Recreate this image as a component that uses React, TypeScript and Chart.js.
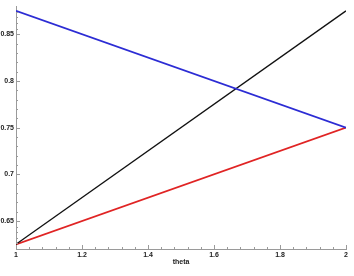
import React, { useEffect, useRef } from "react";
import { Chart, registerables } from "chart.js";

Chart.register(...registerables);

const xValues = [1, 2];
const blueValues = [0.875, 0.75];
const blackValues = [0.625, 0.875];
const redValues = [0.625, 0.75];
const xMajorTicks = [1, 1.2, 1.4, 1.6, 1.8, 2];
const xTickLabels = ["1", "1.2", "1.4", "1.6", "1.8", "2"];
const yMajorTicks = [0.65, 0.7, 0.75, 0.8, 0.85];
const yTickLabels = ["0.65", "0.7", "0.75", "0.8", "0.85"];
const xTitle = "theta";

const FONT = "'Liberation Sans', Arial, sans-serif";

function subdivide(major: number[], parts: number): number[] {
  const out: number[] = [];
  for (let i = 0; i < major.length - 1; i++) {
    const a = major[i];
    const b = major[i + 1];
    for (let k = 1; k < parts; k++) out.push(a + ((b - a) * k) / parts);
  }
  return out;
}

const tickMarks = {
  id: "tickMarks",
  afterDraw(chart: any) {
    const { ctx, chartArea, scales } = chart;
    const xs = scales.x;
    const ys = scales.y;
    ctx.save();
    ctx.strokeStyle = "#9a9a9a";
    ctx.lineWidth = 1;
    const xMinor = subdivide(xMajorTicks, 5);
    const yAll = [0.62, ...yMajorTicks, 0.88];
    const yMinor = subdivide(yAll, 5).filter((v) => v > 0.62 && v < 0.88);
    ctx.beginPath();
    xMajorTicks.forEach((v) => {
      const px = Math.round(xs.getPixelForValue(v)) + 0.5;
      ctx.moveTo(px, chartArea.bottom);
      ctx.lineTo(px, chartArea.bottom - 4);
    });
    xMinor.forEach((v) => {
      const px = Math.round(xs.getPixelForValue(v)) + 0.5;
      ctx.moveTo(px, chartArea.bottom);
      ctx.lineTo(px, chartArea.bottom - 2);
    });
    yMajorTicks.forEach((v) => {
      const py = Math.round(ys.getPixelForValue(v)) + 0.5;
      ctx.moveTo(chartArea.left, py);
      ctx.lineTo(chartArea.left + 4, py);
    });
    yMinor.forEach((v) => {
      const py = Math.round(ys.getPixelForValue(v)) + 0.5;
      ctx.moveTo(chartArea.left, py);
      ctx.lineTo(chartArea.left + 2, py);
    });
    ctx.stroke();
    ctx.restore();
  },
};

export default function App() {
  const ref = useRef<HTMLCanvasElement>(null);

  useEffect(() => {
    document.body.style.margin = "0";
    const mk = (vals: number[]) => xValues.map((x, i) => ({ x, y: vals[i] }));
    const chart = new Chart(ref.current as HTMLCanvasElement, {
      type: "line",
      data: {
        datasets: [
          { data: mk(blueValues), borderColor: "#2c2cd4", borderWidth: 1.8, pointRadius: 0, fill: false },
          { data: mk(blackValues), borderColor: "#111111", borderWidth: 1.3, pointRadius: 0, fill: false },
          { data: mk(redValues), borderColor: "#e02424", borderWidth: 1.8, pointRadius: 0, fill: false },
        ],
      },
      options: {
        animation: false,
        responsive: false,
        maintainAspectRatio: false,
        layout: { padding: { top: 4, right: 8, left: 0, bottom: 0 } },
        plugins: { legend: { display: false }, tooltip: { enabled: false } },
        scales: {
          x: {
            type: "linear",
            min: 1,
            max: 2,
            grid: { display: false, drawTicks: false, tickLength: 0 },
            border: { display: true, color: "#9a9a9a", width: 1 },
            afterBuildTicks: (s: any) => {
              s.ticks = xMajorTicks.map((v) => ({ value: v }));
            },
            afterFit: (s: any) => {
              s.height = 27;
            },
            ticks: {
              padding: 2,
              maxRotation: 0,
              autoSkip: false,
              color: "#222",
              font: { family: FONT, size: 7, weight: "bold" },
              callback: (v: any) => {
                const i = xMajorTicks.findIndex((t) => Math.abs(t - Number(v)) < 1e-6);
                return i >= 0 ? xTickLabels[i] : "";
              },
            },
            title: {
              display: true,
              text: xTitle,
              color: "#222",
              font: { family: FONT, size: 7, weight: "bold" },
              padding: { top: 0, bottom: 10 },
            },
          },
          y: {
            type: "linear",
            min: 0.62,
            max: 0.88,
            grid: { display: false, drawTicks: false, tickLength: 0 },
            border: { display: true, color: "#9a9a9a", width: 1 },
            afterBuildTicks: (s: any) => {
              s.ticks = yMajorTicks.map((v) => ({ value: v }));
            },
            afterFit: (s: any) => {
              s.width = 16;
            },
            ticks: {
              padding: 2,
              autoSkip: false,
              color: "#222",
              font: { family: FONT, size: 7, weight: "bold" },
              callback: (v: any) => {
                const i = yMajorTicks.findIndex((t) => Math.abs(t - Number(v)) < 1e-6);
                return i >= 0 ? yTickLabels[i] : "";
              },
            },
          },
        },
      },
      plugins: [tickMarks],
    } as any);
    return () => chart.destroy();
  }, []);

  return (
    <div style={{ position: "absolute", left: 0, top: 0, width: 354, height: 276, background: "#fff" }}>
      <canvas ref={ref} width={354} height={276} style={{ width: 354, height: 276, display: "block" }} />
    </div>
  );
}
